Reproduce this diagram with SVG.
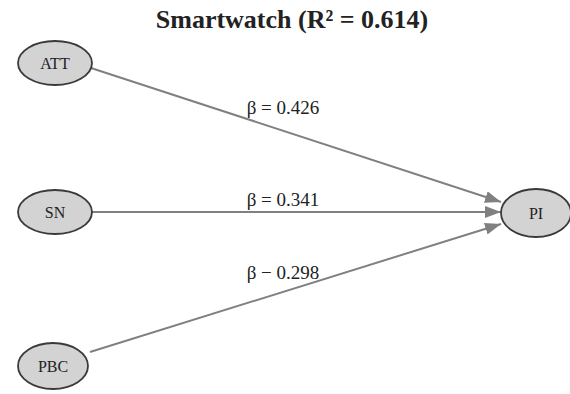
<svg xmlns="http://www.w3.org/2000/svg" width="570" height="394" viewBox="0 0 570 394">
<style>
.node ellipse{fill:#d3d3d3;stroke:#3a3a3a;stroke-width:1.8}
.node text{font-family:"Liberation Serif",serif;font-size:16px;fill:#222;text-anchor:middle;dominant-baseline:central}
.edge{stroke:#808080;stroke-width:2;fill:none;marker-end:url(#ah)}
.lbl{font-family:"Liberation Serif",serif;font-size:19px;fill:#222;text-anchor:middle}
.title{font-family:"Liberation Serif",serif;font-size:26px;font-weight:bold;fill:#222;text-anchor:middle}
</style>
<defs>
<marker id="ah" viewBox="0 0 10 10" refX="10" refY="5" markerWidth="8" markerHeight="6" orient="auto" markerUnits="strokeWidth" preserveAspectRatio="none">
<path d="M0,0 L10,5 L0,10 z" fill="#808080"/>
</marker>
</defs>
<rect width="570" height="394" fill="#fff"/>
<text class="title" x="292" y="28">Smartwatch (R² = 0.614)</text>
<g id="connectors">
<line class="edge" x1="91" y1="68" x2="501" y2="202"/>
<line class="edge" x1="92" y1="212" x2="501" y2="212"/>
<line class="edge" x1="90" y1="352" x2="501" y2="224"/>
<text class="lbl" x="283" y="114">β = 0.426</text>
<text class="lbl" x="283" y="206">β = 0.341</text>
<text class="lbl" x="283" y="279">β − 0.298</text>
</g>
<g id="ATT" class="node"><ellipse cx="55" cy="63" rx="37" ry="22"/><text x="55" y="63">ATT</text></g>
<g id="SN" class="node"><ellipse cx="55" cy="212" rx="37" ry="22"/><text x="55" y="212">SN</text></g>
<g id="PBC" class="node"><ellipse cx="53" cy="366" rx="35" ry="23"/><text x="53" y="366">PBC</text></g>
<g id="PI" class="node"><ellipse cx="536" cy="213" rx="35" ry="24"/><text x="536" y="213">PI</text></g>
</svg>
